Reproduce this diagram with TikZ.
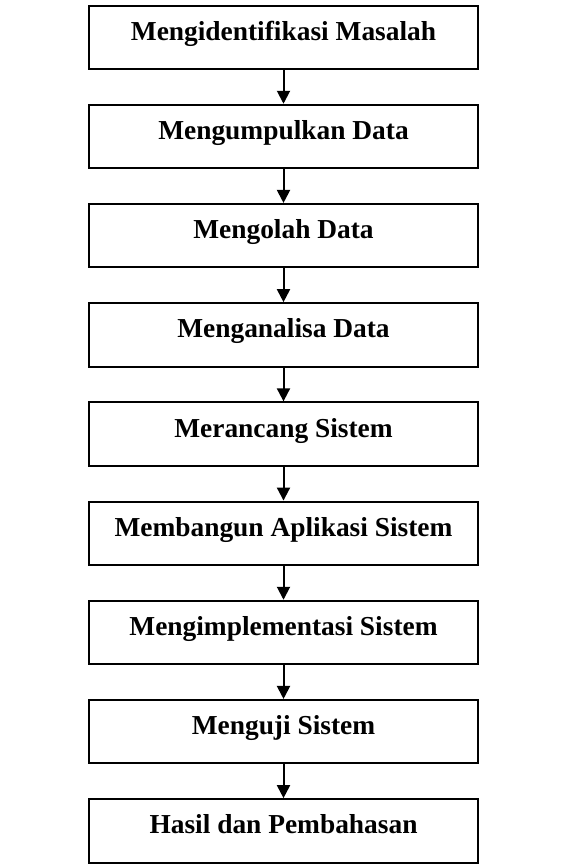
\documentclass[tikz,border=0pt]{standalone}
\usepackage{fontspec}
\setmainfont{Liberation Serif}
\usetikzlibrary{positioning,arrows.meta}
\tikzset{
  stepbox/.style={draw, line width=2pt, minimum width=389pt, minimum height=63.5pt,
    text height=24pt, text depth=18pt, font=\fontsize{27.4}{31}\selectfont\bfseries},
  flow/.style={line width=2pt, -{Triangle[length=13pt,width=13pt]}}
}
\begin{document}
\begin{tikzpicture}[x=1pt,y=1pt, node distance=33.7pt]
  \useasboundingbox (0,0) rectangle (568,-867);
  \node[stepbox] (s1) at (283.5,-37.3) {Mengidentifikasi Masalah};
  \node[stepbox, below=of s1] (s2) {Mengumpulkan Data};
  \node[stepbox, below=of s2] (s3) {Mengolah Data};
  \node[stepbox, below=of s3] (s4) {Menganalisa Data};
  \node[stepbox, below=of s4] (s5) {Merancang Sistem};
  \node[stepbox, below=of s5] (s6) {Membangun Aplikasi Sistem};
  \node[stepbox, below=of s6] (s7) {Mengimplementasi Sistem};
  \node[stepbox, below=of s7] (s8) {Menguji Sistem};
  \node[stepbox, below=of s8] (s9) {Hasil dan Pembahasan};
  \foreach \a/\b in {s1/s2,s2/s3,s3/s4,s4/s5,s5/s6,s6/s7,s7/s8,s8/s9}
    \draw[flow] (\a) -- (\b);
\end{tikzpicture}
\end{document}
